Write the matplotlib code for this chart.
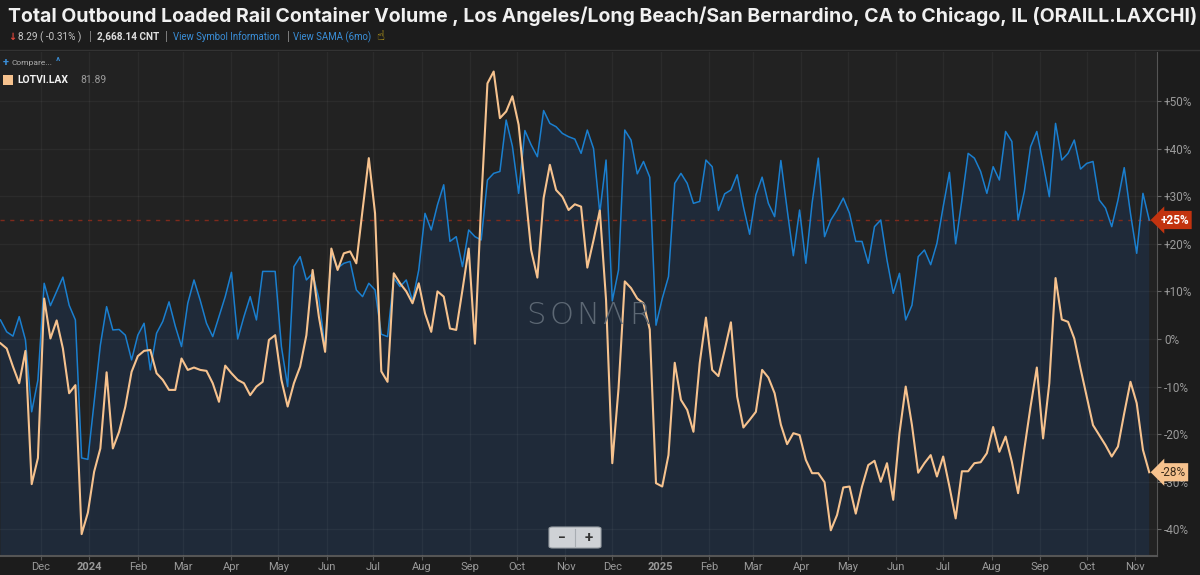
import matplotlib
matplotlib.use("Agg")
import matplotlib.pyplot as plt
import matplotlib.transforms as mtransforms
from matplotlib.patches import FancyBboxPatch
from matplotlib.lines import Line2D
import pandas as pd

plt.rcParams['font.family'] = ['Roboto', 'DejaVu Sans']

# ---------------- data (percent change) ----------------
start_date = "2023-11-05"
step = "4D"

orange_lotvi = [
    -0.9, -2.0, -5.8, -9.3, -2.5, -30.5, -25.0, 8.5, 0.1, 3.9,
    -2.0, -11.4, -9.7, -41.0, -36.5, -27.9, -23.0, -7.0, -23.0, -19.5,
    -14.2, -6.9, -3.6, -2.5, -2.3, -7.2, -8.6, -10.7, -10.7, -4.1,
    -6.5, -6.0, -6.5, -6.7, -9.3, -13.2, -5.6, -7.2, -8.6, -9.3,
    -11.8, -10.0, -9.0, -0.2, 0.8, -8.6, -14.2, -9.3, -5.8, 0.8,
    14.5, 4.7, -2.7, 19.0, 14.5, 18.0, 18.4, 15.9, 27.1, 38.0,
    26.4, -6.8, -9.0, 13.8, 11.7, 10.0, 7.5, 11.7, 5.4, 1.5,
    10.0, 8.9, 2.2, 1.9, 10.3, 19.0, -1.0, 28.5, 53.7, 56.2,
    46.4, 47.8, 51.0, 45.0, 31.8, 18.7, 12.9, 29.6, 36.6, 31.3,
    29.9, 27.1, 28.3, 27.8, 15.0, 20.8, 27.0, 8.2, -26.1, -10.4,
    12.1, 10.7, 8.5, 7.5, 2.0, -30.3, -31.0, -24.4, -5.0, -12.8,
    -14.9, -19.5, -5.1, 4.5, -6.5, -7.8, -2.3, 3.5, -12.1, -18.6,
    -17.0, -15.3, -6.5, -8.1, -11.4, -18.0, -22.1, -19.8, -20.2, -25.4,
    -28.2, -28.2, -30.1, -40.2, -37.0, -31.2, -31.0, -36.7, -31.0, -26.5,
    -25.6, -30.0, -26.1, -33.8, -19.8, -10.0, -18.1, -28.1, -26.1, -24.4,
    -28.9, -24.7, -31.0, -37.7, -27.8, -27.8, -26.1, -25.9, -24.0, -18.5,
    -23.7, -20.5, -25.8, -32.4, -23.1, -14.2, -6.0, -20.9, -9.3, 12.8,
    4.1, 3.6, 0.1, -6.2, -12.1, -18.1, -20.2, -22.3, -24.7, -22.6,
    -15.6, -9.0, -13.5, -23.3, -28.0,
]

blue_oraill = [
    4.0, 1.5, 0.6, 4.7, -0.2, -15.3, -8.6, 11.7, 7.0, 10.0,
    13.0, 7.1, 4.0, -25.0, -25.3, -13.2, -1.3, 6.8, 1.9, 2.0,
    0.8, -4.4, 0.8, 3.3, -6.5, 1.2, 3.7, 7.8, 2.7, -1.6,
    7.5, 12.4, 8.1, 3.3, 0.5, 4.7, 8.9, 14.0, 0.0, 4.7,
    8.9, 4.0, 14.2, 14.2, 14.2, -1.6, -10.0, 15.2, 17.3, 12.4,
    13.8, 8.5, -2.0, 18.0, 14.9, 15.9, 16.3, 10.3, 8.9, 11.7,
    10.3, 1.0, 0.5, 12.8, 11.0, 12.4, 8.0, 14.5, 26.4, 22.9,
    28.2, 32.4, 20.5, 21.5, 15.2, 22.9, 21.5, 20.8, 33.4, 34.8,
    35.2, 46.0, 40.5, 30.6, 43.8, 40.8, 38.3, 48.0, 45.3, 44.6,
    43.2, 42.5, 42.0, 39.0, 43.9, 40.0, 26.5, 37.6, 8.0, 14.5,
    43.9, 41.8, 34.7, 37.3, 34.0, 2.9, 8.5, 13.1, 32.7, 34.8,
    32.7, 28.5, 28.9, 37.6, 36.2, 27.0, 30.5, 31.3, 34.5, 27.8,
    22.0, 30.3, 34.0, 28.5, 25.7, 37.5, 27.3, 17.5, 27.1, 15.9,
    28.5, 38.0, 21.5, 25.0, 27.1, 29.6, 26.4, 20.5, 20.5, 15.9,
    23.6, 25.0, 16.6, 9.6, 13.8, 4.0, 7.1, 17.3, 18.7, 15.6,
    20.1, 27.8, 35.0, 20.0, 29.2, 39.0, 38.0, 35.2, 30.6, 36.2,
    33.4, 43.6, 41.5, 25.0, 31.0, 40.4, 43.6, 36.9, 29.9, 45.3,
    37.6, 39.0, 41.8, 35.7, 36.9, 37.3, 29.2, 27.5, 23.6, 29.2,
    36.0, 26.4, 18.0, 30.6, 25.0,
]

y_ticks = [50, 40, 30, 20, 10, 0, -10, -20, -30, -40]
y_tick_labels = ["+50%", "+40%", "+30%", "+20%", "+10%", "0%", "-10%", "-20%", "-30%", "-40%"]
month_starts = pd.date_range("2023-12-01", "2025-11-01", freq="MS")
month_labels = [("2024" if (d.month == 1 and d.year == 2024) else
                 "2025" if (d.month == 1 and d.year == 2025) else d.strftime("%b"))
                for d in month_starts]

title = ("Total Outbound Loaded Rail Container Volume , Los Angeles/Long Beach/San Bernardino, "
         "CA to Chicago, IL (ORAILL.LAXCHI)")
last_blue_label = "+25%"
last_orange_label = "-28%"
legend_symbol = "LOTVI.LAX"
legend_value = "81.89"
watermark_letters = ["S", "O", "N", "\u039b", "R"]

dates = pd.date_range(start_date, periods=len(blue_oraill), freq=step)

# ---------------- figure ----------------
W, H = 1200, 575
BG = "#1c1c1c"
fig = plt.figure(figsize=(W / 100, H / 100), dpi=100, facecolor=BG)

def fx(x):
    return x / W

def fy(y):
    return 1 - y / H

ax_left, ax_right, ax_top, ax_bot = 0, 1157, 52, 556
ax = fig.add_axes([fx(ax_left), fy(ax_bot), fx(ax_right - ax_left), (ax_bot - ax_top) / H])
ax.set_facecolor("#222222")

ax.fill_between(dates, blue_oraill, -100, color="#1f2a39", zorder=1, linewidth=0)
ax.plot(dates, blue_oraill, color="#1a7fcf", lw=1.1, zorder=4)
ax.plot(dates, orange_lotvi, color="#f6c28e", lw=1.5, zorder=5)

ax.axhline(blue_oraill[-1], color="#7e2a1c", lw=1, ls=(0, (3, 4)), zorder=3)

ax.set_ylim(-45.6, 60.3)
x0 = dates[0]
ax.set_xlim(x0 - pd.Timedelta(days=0.3), x0 + pd.Timedelta(days=741))

ax.set_yticks(y_ticks)
ax.set_yticklabels(y_tick_labels)
ax.yaxis.tick_right()
ax.set_xticks(month_starts)
ax.set_xticklabels(month_labels)
for lab in ax.get_xticklabels():
    if lab.get_text() in ("2024", "2025"):
        lab.set_color("#eeeeee")
        lab.set_fontweight("bold")

ax.grid(True, color="white", alpha=0.045, lw=1)
ax.set_axisbelow(False)
for s in ("top", "left"):
    ax.spines[s].set_visible(False)
ax.spines["right"].set_color("#555555")
ax.spines["bottom"].set_color("#555555")
ax.spines["bottom"].set_linewidth(1.5)
ax.tick_params(axis="y", colors="#666666", labelcolor="#9a9a9a", labelsize=8.5,
               length=3, pad=2, direction="out")
ax.tick_params(axis="x", colors="#555555", labelcolor="#9a9a9a", labelsize=8,
               length=3, pad=1.5, direction="out")

# last-value tags
tr = mtransforms.blended_transform_factory(ax.transAxes, ax.transData)
ax.text(1.003, blue_oraill[-1], last_blue_label, transform=tr, ha="left", va="center",
        fontsize=8.5, fontweight="bold", color="white", zorder=10, clip_on=False,
        bbox=dict(boxstyle="larrow,pad=0.22", fc="#c2330f", ec="none"))
ax.text(1.003, orange_lotvi[-1], last_orange_label, transform=tr, ha="left", va="center",
        fontsize=8.5, color="#3a2a1a", zorder=10, clip_on=False,
        bbox=dict(boxstyle="larrow,pad=0.22", fc="#f6c28e", ec="none"))

# watermark
for px, letter in zip([536, 562, 588, 613, 640], watermark_letters):
    fig.text(fx(px), fy(316), letter, ha="center", va="center", fontsize=22,
             color="#5d6874", family=["DejaVu Sans"], fontweight="light", zorder=2)

# ---------------- header ----------------
fig.text(fx(8), fy(16), title, fontsize=14.0, fontweight="bold", color="#f0f0f0",
         ha="left", va="center", family=["Inter", "Roboto", "DejaVu Sans"])
sub_y = fy(37)
fig.text(fx(8), sub_y, "\u2193", fontsize=7, color="#e0463a", ha="left", va="center",
         family=["DejaVu Sans"], fontweight="bold")
fig.text(fx(18), sub_y, "8.29 ( -0.31% )", fontsize=7.2, color="#c8c8c8", ha="left", va="center")
fig.text(fx(89), sub_y, "|", fontsize=9, color="#888888", ha="left", va="center")
fig.text(fx(97), sub_y, "2,668.14 CNT", fontsize=7.2, color="#e0e0e0", ha="left", va="center",
         fontweight="bold")
fig.text(fx(165), sub_y, "|", fontsize=9, color="#888888", ha="left", va="center")
fig.text(fx(173), sub_y, "View Symbol Information", fontsize=6.9, color="#3a8fd9", ha="left", va="center")
fig.text(fx(287), sub_y, "|", fontsize=9, color="#888888", ha="left", va="center")
fig.text(fx(293), sub_y, "View SAMA (6mo)", fontsize=6.9, color="#3a8fd9", ha="left", va="center")
fig.text(fx(376), sub_y, "\u261d", fontsize=9.5, color="#e8c21a", ha="left", va="center",
         family=["DejaVu Sans"])
fig.add_artist(Line2D([0, 1], [fy(50), fy(50)], color="#333333", lw=1))

# legend block
fig.text(fx(3), fy(63), "+", fontsize=8, color="#3a8fd9", ha="left", va="center", fontweight="bold")
fig.text(fx(12), fy(63), "Compare...", fontsize=6, color="#b0b0b0", ha="left", va="center")
fig.text(fx(56), fy(62), "^", fontsize=7, color="#3a8fd9", ha="left", va="center", fontweight="bold")
fig.add_artist(FancyBboxPatch((fx(3), fy(85)), fx(10), 10 / H, boxstyle="square,pad=0",
                              fc="#f6c28e", ec="none", transform=fig.transFigure))
fig.text(fx(17), fy(80), legend_symbol, fontsize=7.5, color="#f2f2f2", ha="left", va="center",
         fontweight="bold")
fig.text(fx(80), fy(80), legend_value, fontsize=7.5, color="#9a9a9a", ha="left", va="center")

# zoom buttons
fig.add_artist(FancyBboxPatch((fx(549), fy(548)), fx(52), 21 / H,
                              boxstyle="round,pad=0,rounding_size=0.003",
                              fc="#cfd2d6", ec="#9aa0a6", lw=0.8, transform=fig.transFigure))
fig.add_artist(Line2D([fx(575), fx(575)], [fy(546), fy(529)], color="#a8adb2", lw=0.8))
fig.text(fx(562), fy(538), "\u2212", fontsize=10, color="#333333", ha="center", va="center",
         fontweight="bold")
fig.text(fx(589), fy(538), "+", fontsize=11, color="#333333", ha="center", va="center",
         fontweight="bold")

fig.savefig("out.png", dpi=100, facecolor=BG)
